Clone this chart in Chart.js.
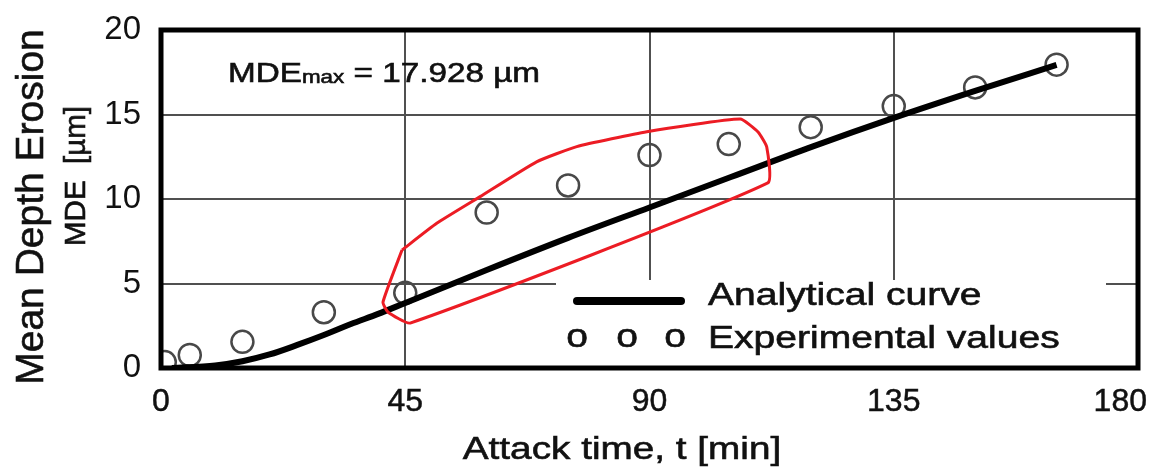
<!DOCTYPE html>
<html>
<head>
<meta charset="utf-8">
<script src="https://cdn.jsdelivr.net/npm/chart.js@4/dist/chart.umd.min.js"></script>
<style>
  html, body { margin: 0; padding: 0; background: #fff; }
  canvas { display: block; }
</style>
</head>
<body>
<canvas id="mdeChart" width="1154" height="469"></canvas>
<script>
// Experimental values (open circles)
const expTime = [0.7, 5.3, 15, 30, 45, 60, 75, 90, 104.6, 119.7, 135, 150, 165];
const expMde = [0.35, 0.77, 1.55, 3.3, 4.45, 9.2, 10.8, 12.6, 13.25, 14.25, 15.5, 16.6, 17.95];

// Analytical curve
const curveTime = [2, 10, 15, 20, 25, 30, 35, 40, 45, 60, 75, 90, 105, 120, 135, 150, 165];
const curveMde = [0, 0.15, 0.4, 0.8, 1.35, 1.95, 2.6, 3.2, 3.85, 5.8, 7.7, 9.5, 11.3, 13.1, 14.8, 16.4, 17.93];

// Red hand-drawn zone around the scattered points
const zoneTime = [44.4, 40.9, 41.8, 45.9, 111.8, 111.6, 110.0, 106.7, 89.5, 76.6, 69.2, 58.8, 50.8, 44.4];
const zoneMde = [6.98, 3.9, 3.31, 2.66, 10.95, 13.08, 13.96, 14.73, 13.98, 13.1, 12.2, 10.14, 8.56, 6.98];

// Axes
const xTicks = [0, 45, 90, 135, 180];
const yTicks = [0, 5, 10, 15, 20];

const FONT = '"Liberation Sans", Arial, sans-serif';
const INK = '#111';

function pts(xs, ys){
  return xs.map((x, i) => ({x: x, y: ys[i]}));
}

// draw text with a horizontal stretch (the source text is wider than plain Arial)
function stretchText(ctx, text, x, y, size, sx, align){
  ctx.save();
  ctx.font = size + 'px ' + FONT;
  let w = ctx.measureText(text).width * sx;
  let x0 = align === 'center' ? x - w / 2 : x;
  ctx.translate(x0, y);
  ctx.scale(sx, 1);
  ctx.textAlign = 'left';
  ctx.textBaseline = 'alphabetic';
  ctx.fillStyle = INK;
  ctx.strokeStyle = INK;
  ctx.lineWidth = 0.6;
  ctx.fillText(text, 0, 0);
  ctx.strokeText(text, 0, 0);
  ctx.restore();
  return w;
}

function vertText(ctx, text, x, y, size){
  ctx.save();
  ctx.font = size + 'px ' + FONT;
  ctx.translate(x, y);
  ctx.rotate(-Math.PI / 2);
  ctx.textAlign = 'center';
  ctx.textBaseline = 'alphabetic';
  ctx.fillStyle = INK;
  ctx.strokeStyle = INK;
  ctx.lineWidth = 0.6;
  ctx.fillText(text, 0, 0);
  ctx.strokeText(text, 0, 0);
  ctx.restore();
}

const decorPlugin = {
  id: 'decor',
  beforeDatasetsDraw(chart){
    // white legend box covering the grid
    const a = chart.chartArea;
    const ctx = chart.ctx;
    ctx.save();
    ctx.fillStyle = '#fff';
    ctx.fillRect(556, 280, a.right - 32 - 556, a.bottom - 282);
    ctx.restore();
  },
  afterDatasetsDraw(chart){
    const a = chart.chartArea;
    const ctx = chart.ctx;
    ctx.save();
    ctx.strokeStyle = '#000';
    ctx.lineWidth = 5;
    ctx.strokeRect(a.left, a.top, a.right - a.left, a.bottom - a.top);
    ctx.restore();
  },
  afterDraw(chart){
    const ctx = chart.ctx;
    const xs = chart.scales.x;

    // x tick labels
    ctx.save();
    ctx.font = '32px ' + FONT;
    ctx.fillStyle = INK;
    ctx.strokeStyle = INK;
    ctx.lineWidth = 0.5;
    ctx.textBaseline = 'alphabetic';
    xTicks.forEach(v => {
      let px = xs.getPixelForValue(v);
      let w = ctx.measureText(String(v)).width;
      let left = Math.min(px - w / 2, 1147 - w);
      ctx.fillText(String(v), left, 411);
      ctx.strokeText(String(v), left, 411);
    });
    ctx.restore();

    // axis titles
    stretchText(ctx, 'Attack time, t [min]', 622, 459, 32, 1.21, 'center');
    vertText(ctx, 'Mean Depth Erosion', 43, 207, 39);
    vertText(ctx, 'MDE  [\u00b5m]', 85, 176, 29.5);

    // MDEmax annotation
    let x = 228;
    x += stretchText(ctx, 'MDE', x, 82, 27.5, 1.21, 'left');
    x += stretchText(ctx, 'max', x, 83, 18.5, 1.21, 'left');
    stretchText(ctx, ' = 17.928 \u00b5m', x, 82, 27.5, 1.21, 'left');

    // legend
    ctx.save();
    ctx.strokeStyle = '#000';
    ctx.lineWidth = 8;
    ctx.lineCap = 'round';
    ctx.beginPath();
    ctx.moveTo(577, 301);
    ctx.lineTo(681, 301);
    ctx.stroke();
    ctx.restore();
    stretchText(ctx, 'Analytical curve', 708, 305, 31, 1.26, 'left');
    [577, 627, 675].forEach(cx => stretchText(ctx, 'o', cx, 347, 34, 1.15, 'center'));
    stretchText(ctx, 'Experimental values', 708, 348, 31, 1.26, 'left');
  }
};

new Chart(document.getElementById('mdeChart'), {
  type: 'scatter',
  data: {
    datasets: [
      {
        label: 'Zone',
        data: pts(zoneTime, zoneMde),
        showLine: true,
        borderColor: '#ec1c24',
        borderWidth: 3,
        borderJoinStyle: 'round',
        pointRadius: 0,
        tension: 0.15,
        fill: false
      },
      {
        label: 'Analytical curve',
        data: pts(curveTime, curveMde),
        showLine: true,
        borderColor: '#000',
        borderWidth: 6,
        pointRadius: 0,
        cubicInterpolationMode: 'monotone',
        fill: false
      },
      {
        label: 'Experimental values',
        data: pts(expTime, expMde),
        showLine: false,
        pointRadius: 11,
        pointBorderWidth: 2.5,
        pointBorderColor: '#484848',
        pointBackgroundColor: 'rgba(255,255,255,0)',
        clip: 0
      }
    ]
  },
  options: {
    responsive: false,
    animation: false,
    devicePixelRatio: 1,
    layout: { padding: { top: 30, right: 16, left: 0, bottom: 0 } },
    plugins: {
      legend: { display: false },
      tooltip: { enabled: false }
    },
    scales: {
      x: {
        type: 'linear',
        min: 0,
        max: 180,
        afterBuildTicks: s => { s.ticks = xTicks.map(v => ({value: v})); },
        ticks: { display: false },
        grid: { color: '#505050', lineWidth: 2, drawTicks: false },
        border: { display: false },
        afterFit: s => { s.height = 101; s.paddingLeft = 0; s.paddingRight = 0; }
      },
      y: {
        type: 'linear',
        min: 0,
        max: 20,
        afterBuildTicks: s => { s.ticks = yTicks.map(v => ({value: v})); },
        ticks: {
          color: INK,
          padding: 20,
          font: { family: FONT, size: 33 }
        },
        grid: { color: '#505050', lineWidth: 2, drawTicks: false },
        border: { display: false },
        afterFit: s => { s.width = 161; s.paddingTop = 0; s.paddingBottom = 0; }
      }
    }
  },
  plugins: [decorPlugin]
});
</script>
</body>
</html>
